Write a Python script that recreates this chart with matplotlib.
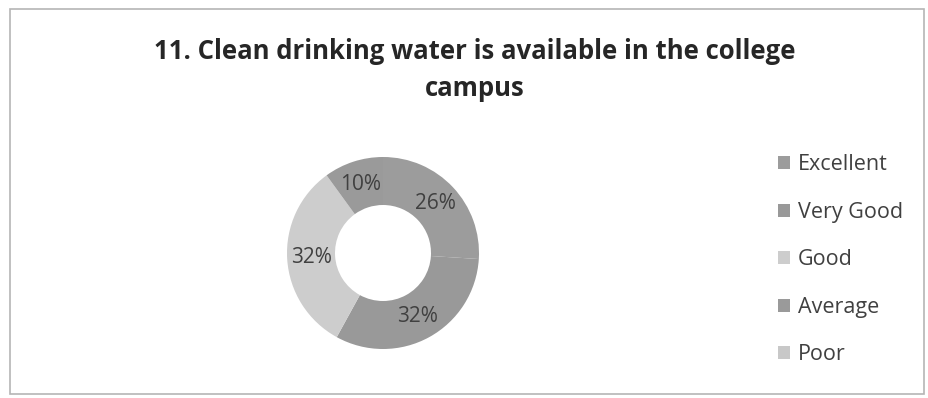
import matplotlib
matplotlib.use("Agg")
import matplotlib.pyplot as plt
from matplotlib.patches import Rectangle, Patch
import numpy as np

categories = ["Excellent", "Very Good", "Good", "Average", "Poor"]
values = [26, 32, 32, 10, 0]
colors = ["#9c9c9c", "#999999", "#cdcdcd", "#9a9a9a", "#c8c8c8"]
title = "11. Clean drinking water is available in the college\ncampus"

W, H = 929, 398
fig = plt.figure(figsize=(W / 100, H / 100), dpi=100)
fig.patch.set_facecolor("white")

# frame
fig.add_artist(Rectangle((10 / W, 4 / H), 914 / W, 385 / H, transform=fig.transFigure,
                         fill=False, edgecolor="#b5b5b5", linewidth=1.2))

fig.text(475 / W, 1 - 70 / H, title, ha="center", va="center", fontsize=18.5,
         fontweight="bold", color="#262626", family="Open Sans", linespacing=1.45)

# donut axes
cx, cy, r = 383, 253, 96
ax = fig.add_axes([(cx - r) / W, 1 - (cy + r) / H, 2 * r / W, 2 * r / H])
wedges, _ = ax.pie(values, colors=colors, startangle=90, counterclock=False,
                   radius=1.0, wedgeprops=dict(width=0.5, edgecolor="none"))
ax.set_xlim(-1, 1)
ax.set_ylim(-1, 1)
ax.set_aspect("auto")
total = sum(values)
start = 90.0
for v in values:
    if v <= 0:
        continue
    mid = start - v / total * 360 / 2
    ang = np.deg2rad(mid)
    ax.text(0.75 * np.cos(ang), 0.75 * np.sin(ang), f"{v}%", ha="center", va="center",
            fontsize=15, color="#404040", family="Open Sans")
    start -= v / total * 360

handles = [Patch(facecolor=c, edgecolor="none") for c in colors]
leg = fig.legend(handles, categories, loc="upper left",
                 bbox_to_anchor=(759 / W, 1 - 135 / H), frameon=False,
                 prop=dict(family="Open Sans", size=15.5), labelcolor="#404040",
                 handlelength=0.55, handleheight=0.55, handletextpad=0.35,
                 labelspacing=1.23)

fig.savefig("out.png", dpi=100, facecolor="white")
